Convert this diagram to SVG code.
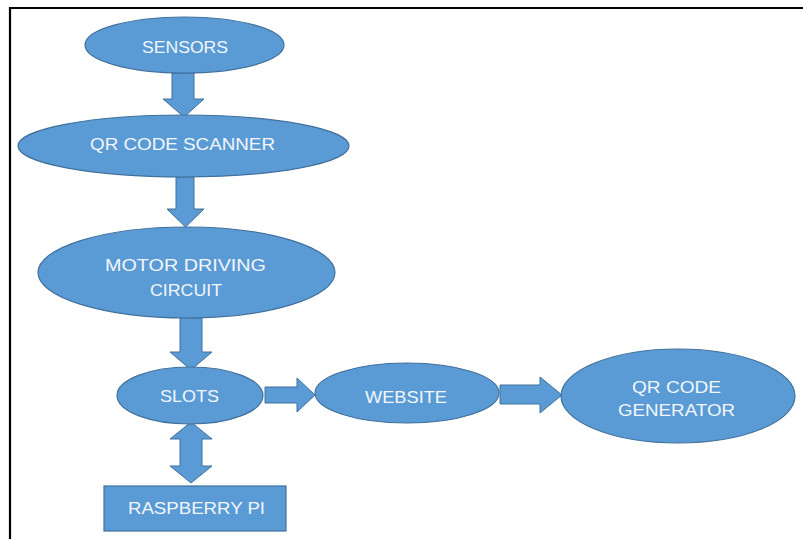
<svg xmlns="http://www.w3.org/2000/svg" width="803" height="539" viewBox="0 0 803 539">
<style>
.shape{fill:#5B9BD5;stroke:#41719C;stroke-width:1.2}
.arrow{fill:#5B9BD5;stroke:#41719C;stroke-width:1}
.lbl{font-family:"Liberation Sans",Arial,sans-serif;font-size:17px;fill:#F2F6FB;text-anchor:middle}
</style>
<rect width="803" height="539" fill="#FFFFFF"/>
<path d="M10,539 V8 H803" fill="none" stroke="#000" stroke-width="2.2"/>
<g id="connectors">
<polygon class="arrow" points="172,73 194,73 194,99 204,99 184,117 163,99 172,99"/>
<polygon class="arrow" points="176,177 194,177 194,209 204,209 185.5,227 167,209 176,209"/>
<polygon class="arrow" points="180,318 202,318 202,352 212,352 191,370 170,352 180,352"/>
<polygon class="arrow" points="265,387 297,387 297,378 315,395 297,412 297,403 265,403"/>
<polygon class="arrow" points="500,385 540,385 540,377 562,395 540,413 540,404 500,404"/>
<polygon class="arrow" points="191,422 212,439 202,439 202,466 212,466 191,483 170,466 180,466 180,439 170,439"/>
</g>
<g id="sensors">
<ellipse class="shape" cx="184.5" cy="45" rx="99.5" ry="28"/>
<text class="lbl" x="185" y="53" textLength="86" lengthAdjust="spacingAndGlyphs">SENSORS</text>
</g>
<g id="qr-code-scanner">
<ellipse class="shape" cx="183.5" cy="146" rx="165.5" ry="31"/>
<text class="lbl" x="182.5" y="150" textLength="185" lengthAdjust="spacingAndGlyphs">QR CODE SCANNER</text>
</g>
<g id="motor-driving-circuit">
<ellipse class="shape" cx="186.5" cy="272.5" rx="148.5" ry="45.5"/>
<text class="lbl" x="185.5" y="270.5" textLength="161" lengthAdjust="spacingAndGlyphs">MOTOR DRIVING</text>
<text class="lbl" x="186" y="296" textLength="72" lengthAdjust="spacingAndGlyphs">CIRCUIT</text>
</g>
<g id="slots">
<ellipse class="shape" cx="190" cy="395.5" rx="73" ry="28.5"/>
<text class="lbl" x="189.5" y="402" textLength="59" lengthAdjust="spacingAndGlyphs">SLOTS</text>
</g>
<g id="website">
<ellipse class="shape" cx="407" cy="393" rx="92" ry="30"/>
<text class="lbl" x="406" y="403" textLength="82" lengthAdjust="spacingAndGlyphs">WEBSITE</text>
</g>
<g id="qr-code-generator">
<ellipse class="shape" cx="678" cy="396" rx="117" ry="47"/>
<text class="lbl" x="676.5" y="392.5" textLength="89" lengthAdjust="spacingAndGlyphs">QR CODE</text>
<text class="lbl" x="676.5" y="416" textLength="117" lengthAdjust="spacingAndGlyphs">GENERATOR</text>
</g>
<g id="raspberry-pi">
<rect class="shape" x="104" y="486" width="182" height="45"/>
<text class="lbl" x="196.5" y="514" textLength="137" lengthAdjust="spacingAndGlyphs">RASPBERRY  PI</text>
</g>
</svg>
